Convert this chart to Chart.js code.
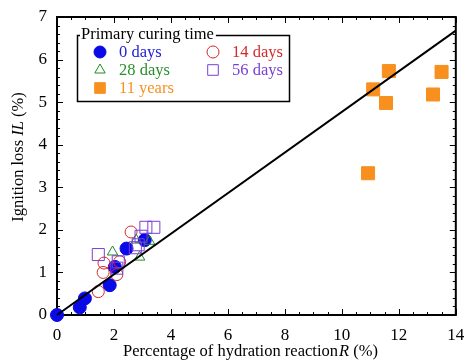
<!DOCTYPE html>
<html lang="en">
<head>
<meta charset="utf-8">
<title>Ignition loss vs hydration</title>
<script src="https://cdn.jsdelivr.net/npm/chart.js@4.4.1/dist/chart.umd.min.js"></script>
<style>
  body { margin: 0; background: #fff; }
  canvas { display: block; }
</style>
</head>
<body>
<canvas id="myChart" width="466" height="361"></canvas>
<script>
// data: R (%) and IL (%)
const days0R  = [0, 0.8, 0.98, 1.85, 2.03, 2.44, 3.08];
const days0IL = [0, 0.18, 0.39, 0.70, 1.13, 1.56, 1.76];
const days14R  = [2.6, 1.65, 1.62, 2.1, 2.2, 1.45];
const days14IL = [1.95, 1.22, 1.0, 0.95, 1.25, 0.55];
const days28R  = [1.95, 2.78, 3.25, 2.9];
const days28IL = [1.48, 1.76, 1.73, 1.36];
const days56R  = [1.45, 2.15, 2.75, 2.85, 3.12, 3.4, 2.95, 2.1];
const days56IL = [1.42, 1.25, 1.58, 1.65, 2.06, 2.06, 1.85, 1.1];
const years11R  = [11.65, 11.1, 11.55, 13.5, 13.2, 10.92];
const years11IL = [5.73, 5.3, 4.98, 5.71, 5.18, 3.33];
const fitR  = [0, 14];
const fitIL = [0, 6.68];
const xTicks = [0, 2, 4, 6, 8, 10, 12, 14];
const yTicks = [0, 1, 2, 3, 4, 5, 6, 7];

const serif = "'Liberation Serif', 'Times New Roman', serif";
const fs = 16.5; // text size

function pts(xs, ys) {
    return xs.map(function (x, i) { return {x: x, y: ys[i]}; });
}

const groups = [
    {label: '0 days',   color: '#0a0ae6', text: '#2020d8', style: 'circle',   r: 6.5, fill: true,  R: days0R,  IL: days0IL},
    {label: '14 days',  color: '#d42a2a', text: '#d42a2a', style: 'circle',   r: 6,   fill: false, R: days14R, IL: days14IL},
    {label: '28 days',  color: '#1e8c1e', text: '#2a8f2a', style: 'triangle', r: 6,   fill: false, R: days28R, IL: days28IL},
    {label: '56 days',  color: '#7a3fd8', text: '#7a3fd8', style: 'rect',     r: 8.5, fill: false, R: days56R, IL: days56IL},
    {label: '11 years', color: '#f7901e', text: '#f7901e', style: 'rect',     r: 9.2, fill: true,  R: years11R, IL: years11IL}
];

let datasets = [{
    type: 'line',
    label: 'fit',
    data: pts(fitR, fitIL),
    borderColor: '#000',
    borderWidth: 2,
    pointRadius: 0,
    fill: false,
    clip: false,
    order: 0
}];
groups.forEach(function (g, i) {
    datasets.push({
        label: g.label,
        data: pts(g.R, g.IL),
        pointStyle: g.style,
        pointRadius: g.r,
        pointHoverRadius: g.r,
        pointBorderWidth: 1,
        pointBorderColor: g.color,
        pointBackgroundColor: g.fill ? g.color : 'rgba(0,0,0,0)',
        clip: false,
        order: 10 - i
    });
});

// frame and inward ticks go under the marks
const frame = {
    id: 'frame',
    beforeDatasetsDraw: function (chart) {
        const ctx = chart.ctx;
        const a = chart.chartArea;
        const xs = chart.scales.x, ys = chart.scales.y;
        ctx.save();
        ctx.strokeStyle = '#000';
        ctx.lineWidth = 2;
        ctx.strokeRect(a.left, a.top, a.right - a.left, a.bottom - a.top);
        ctx.lineWidth = 1;
        ctx.beginPath();
        for (let v = 0; v <= 14.001; v += 0.5) {
            let px = Math.round(xs.getPixelForValue(v)) + 0.5;
            let len = (Math.abs(v % 2) < 0.01) ? 6 : 3;
            ctx.moveTo(px, a.bottom); ctx.lineTo(px, a.bottom - len);
            ctx.moveTo(px, a.top); ctx.lineTo(px, a.top + len);
        }
        for (let v = 0; v <= 7.001; v += 0.2) {
            let py = Math.round(ys.getPixelForValue(v)) + 0.5;
            let len = (Math.abs(v - Math.round(v)) < 0.01) ? 6 : 3;
            ctx.moveTo(a.left, py); ctx.lineTo(a.left + len, py);
            ctx.moveTo(a.right, py); ctx.lineTo(a.right - len, py);
        }
        ctx.stroke();
        ctx.restore();
    }
};

// axis titles (with italic symbols) and the legend box
const decor = {
    id: 'decor',
    afterDraw: function (chart) {
        const ctx = chart.ctx;
        ctx.save();
        ctx.fillStyle = '#000';
        ctx.textBaseline = 'middle';
        const p1 = 'Percentage of hydration reaction', p2 = 'R', p3 = ' (%)';
        ctx.font = fs + 'px ' + serif;
        let w1 = ctx.measureText(p1).width, w3 = ctx.measureText(p3).width;
        ctx.font = 'italic ' + fs + 'px ' + serif;
        let w2 = ctx.measureText(p2).width;
        let x0 = 250 - (w1 + w2 + w3) / 2;
        ctx.textAlign = 'left';
        ctx.font = fs + 'px ' + serif; ctx.fillText(p1, x0, 352);
        ctx.font = 'italic ' + fs + 'px ' + serif; ctx.fillText(p2, x0 + w1 + 1, 352);
        ctx.font = fs + 'px ' + serif; ctx.fillText(p3, x0 + w1 + w2 + 1, 352);

        ctx.save();
        ctx.translate(19, 157);
        ctx.rotate(-Math.PI / 2);
        const q1 = 'Ignition loss ', q2 = 'IL', q3 = ' (%)';
        ctx.font = fs + 'px ' + serif;
        let v1 = ctx.measureText(q1).width, v3 = ctx.measureText(q3).width;
        ctx.font = 'italic ' + fs + 'px ' + serif;
        let v2 = ctx.measureText(q2).width;
        let y0 = -(v1 + v2 + v3) / 2;
        ctx.font = fs + 'px ' + serif; ctx.fillText(q1, y0, 0);
        ctx.font = 'italic ' + fs + 'px ' + serif; ctx.fillText(q2, y0 + v1, 0);
        ctx.font = fs + 'px ' + serif; ctx.fillText(q3, y0 + v1 + v2, 0);
        ctx.restore();

        // legend
        ctx.fillStyle = '#fff';
        ctx.fillRect(77, 35, 212, 66);
        ctx.strokeStyle = '#000';
        ctx.lineWidth = 1.5;
        ctx.strokeRect(77.5, 35.5, 212, 66);
        ctx.font = fs + 'px ' + serif;
        let tw = ctx.measureText('Primary curing time').width;
        ctx.fillRect(80, 27, tw + 3, 16);
        ctx.fillStyle = '#000';
        ctx.fillText('Primary curing time', 81, 35);

        const spots = [[100, 52], [213, 52], [100, 70], [213, 70], [100, 88]];
        groups.forEach(function (g, i) {
            let s = spots[i];
            ctx.strokeStyle = g.color;
            ctx.fillStyle = g.fill ? g.color : 'rgba(0,0,0,0)';
            ctx.lineWidth = 1;
            Chart.helpers.drawPoint(ctx, {pointStyle: g.style, radius: g.style === 'rect' ? 7.5 : 6, borderWidth: 1}, s[0], s[1]);
            ctx.font = fs + 'px ' + serif;
            ctx.fillStyle = g.text;
            ctx.fillText(g.label, s[0] + 19, s[1] + 1);
        });
        ctx.restore();
    }
};

var ctx = document.getElementById('myChart');
var myChart = new Chart(ctx, {
    type: 'scatter',
    data: {datasets: datasets},
    options: {
        responsive: false,
        devicePixelRatio: 1,
        animation: false,
        layout: {padding: {top: 17, right: 8, left: 0, bottom: 0}},
        plugins: {legend: {display: false}, tooltip: {enabled: false}},
        scales: {
            x: {
                type: 'linear', min: 0, max: 14,
                afterBuildTicks: function (s) { s.ticks = xTicks.map(function (v) { return {value: v}; }); },
                afterFit: function (s) { s.height = 46; s.paddingLeft = 0; s.paddingRight = 0; },
                grid: {display: false, drawTicks: false},
                border: {display: false},
                ticks: {color: '#000', padding: 10, font: {family: serif, size: 17}}
            },
            y: {
                type: 'linear', min: 0, max: 7,
                afterBuildTicks: function (s) { s.ticks = yTicks.map(function (v) { return {value: v}; }); },
                afterFit: function (s) { s.width = 57; s.paddingTop = 0; s.paddingBottom = 0; },
                grid: {display: false, drawTicks: false},
                border: {display: false},
                ticks: {color: '#000', padding: 10, font: {family: serif, size: 17}}
            }
        }
    },
    plugins: [frame, decor]
});
</script>
</body>
</html>
